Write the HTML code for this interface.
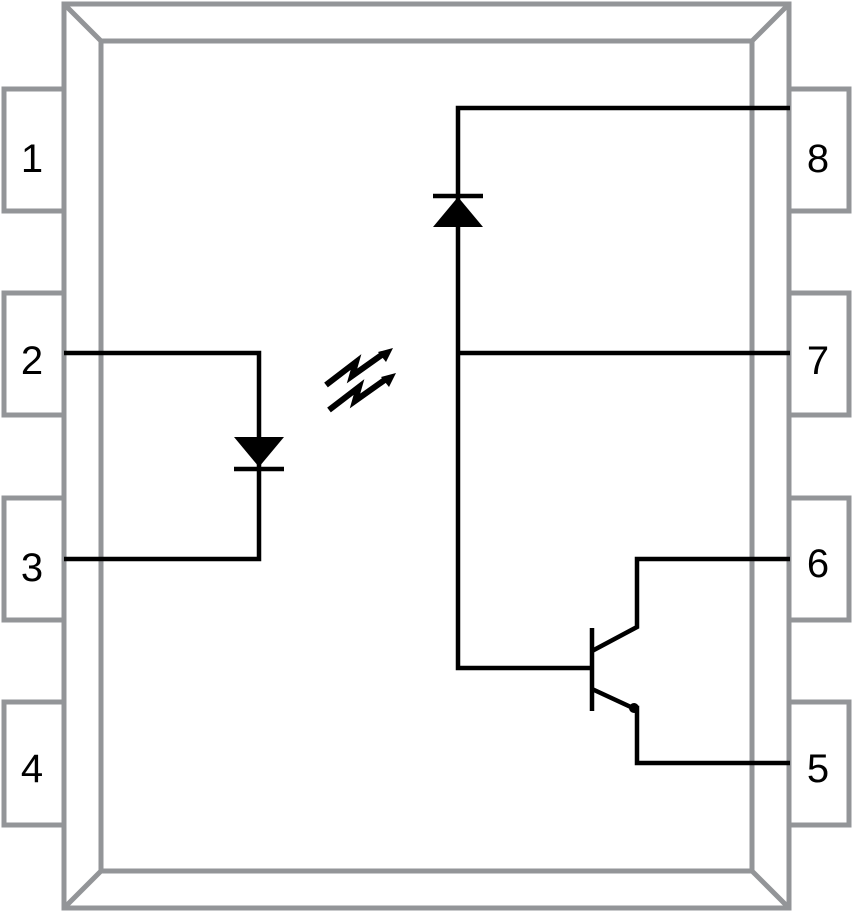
<!DOCTYPE html>
<html><head><meta charset="utf-8"><style>html,body{margin:0;padding:0;background:#fff}svg{display:block}</style></head>
<body>
<svg width="853" height="913" viewBox="0 0 853 913" xmlns="http://www.w3.org/2000/svg">
<g fill="none" stroke="#939598" stroke-width="5">
<rect x="64" y="4" width="725" height="904"/>
<rect x="101" y="41" width="651" height="830"/>
<line x1="64" y1="4" x2="101" y2="41"/>
<line x1="789" y1="4" x2="752" y2="41"/>
<line x1="64" y1="908" x2="101" y2="871"/>
<line x1="789" y1="908" x2="752" y2="871"/>
<polyline points="64,89 4,89 4,211 64,211"/>
<polyline points="64,293 4,293 4,415 64,415"/>
<polyline points="64,498 4,498 4,620 64,620"/>
<polyline points="64,702 4,702 4,825 64,825"/>
<polyline points="789,89 849,89 849,211 789,211"/>
<polyline points="789,293 849,293 849,415 789,415"/>
<polyline points="789,498 849,498 849,620 789,620"/>
<polyline points="789,702 849,702 849,825 789,825"/>
</g>
<g font-family="Liberation Sans, sans-serif" font-size="40" fill="#000" text-anchor="middle">
<text x="32" y="172">1</text>
<text x="32" y="374">2</text>
<text x="32" y="581">3</text>
<text x="32" y="782">4</text>
<text x="818" y="172">8</text>
<text x="818" y="374">7</text>
<text x="818" y="577">6</text>
<text x="818" y="782">5</text>
</g>
<g fill="none" stroke="#000" stroke-width="4.5">
<polyline points="64,353 259,353 259,559 64,559"/>
<line x1="234" y1="469" x2="284" y2="469"/>
<polyline points="790,108 458,108 458,668 592,668"/>
<line x1="458" y1="353" x2="790" y2="353"/>
<line x1="433" y1="196" x2="483" y2="196"/>
<line x1="592" y1="628" x2="592" y2="711"/>
<polyline points="592,651 637,627 637,559 790,559"/>
<polyline points="592,689 633,708 637,708 637,763 790,763"/>
<polyline points="326,385 356,362 352,376 383,354" stroke-width="6"/>
<polyline points="329,410 359,387 355,401 386,379" stroke-width="6"/>
</g>
<g fill="#000">
<polygon points="234,437 284,437 259,467"/>
<polygon points="433,227 483,227 458,197"/>
<circle cx="634" cy="708" r="5"/>
<polygon points="393,348 378,352 386,362"/>
<polygon points="396,373 381,377 389,387"/>
</g>
</svg>
</body></html>
